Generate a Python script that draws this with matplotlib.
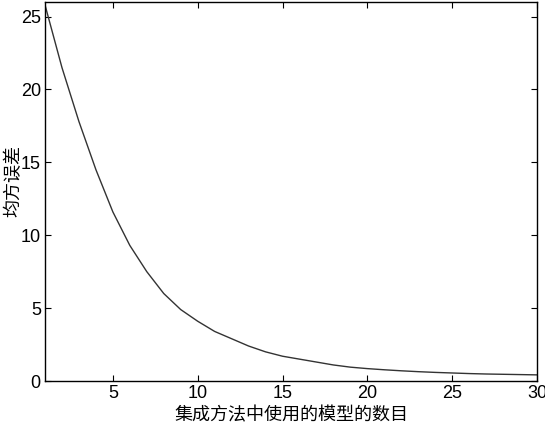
import matplotlib as mpl
mpl.use('Agg')
import matplotlib.pyplot as plt
import numpy as np

plt.rcParams['font.family'] = ['Liberation Sans Narrow', 'Liberation Sans', 'Noto Sans CJK SC', 'DejaVu Sans']

# number of models vs mean squared error
n_models = list(range(1, 31))
mse = [25.8, 21.5, 17.8, 14.5, 11.6, 9.3, 7.5, 6.0, 4.9, 4.1,
       3.4, 2.9, 2.4, 2.0, 1.7, 1.5, 1.3, 1.1, 0.95, 0.85,
       0.77, 0.70, 0.64, 0.59, 0.55, 0.51, 0.48, 0.46, 0.44, 0.42]

fig = plt.figure(figsize=(5.45, 4.28), dpi=100)
ax = fig.add_axes([45/545., 47/428., 492/545., 379/428.])

ax.plot(n_models, mse, color='#333333', lw=1.0)

ax.set_xlim(1, 30)
ax.set_ylim(0, 26)
ax.set_xticks([5, 10, 15, 20, 25, 30])
ax.set_yticks([0, 5, 10, 15, 20, 25])
ax.tick_params(direction='in', top=True, right=True, labelsize=13, length=4, pad=3)
for s in ax.spines.values():
    s.set_linewidth(1.0)

cjk = ['Noto Sans CJK SC', 'DejaVu Sans']
ax.set_xlabel(u'集成方法中使用的模型的数目', fontsize=13, family=cjk)
ax.set_ylabel(u'均方误差', fontsize=13, family=cjk)
ax.xaxis.set_label_coords(0.5, -0.068)
ax.yaxis.set_label_coords(-0.046, 0.528)

fig.savefig('out.png', dpi=100)
